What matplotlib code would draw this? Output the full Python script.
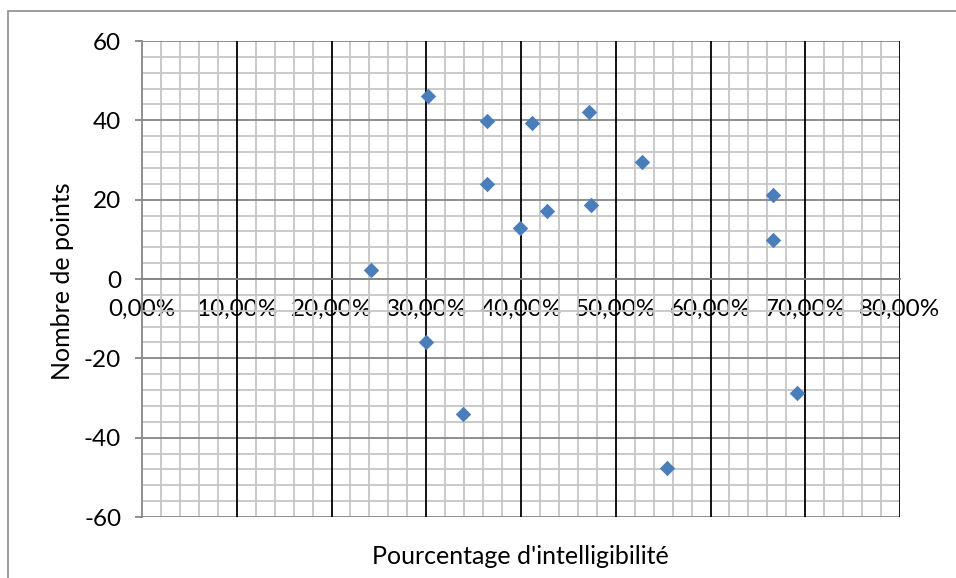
import matplotlib.pyplot as plt
from matplotlib.ticker import MultipleLocator, FuncFormatter
from matplotlib.patches import Rectangle

# Données
intelligibilite = [0.242, 0.302, 0.300, 0.339, 0.364, 0.364, 0.399, 0.412,
                   0.427, 0.472, 0.474, 0.528, 0.554, 0.666, 0.666, 0.691]
points = [2.3, 46.1, -15.9, -34.0, 39.8, 23.9, 12.9, 39.3,
          17.1, 42.1, 18.7, 29.5, -47.6, 21.3, 9.9, -28.7]

graduations_x = [0.0, 0.1, 0.2, 0.3, 0.4, 0.5, 0.6, 0.7, 0.8]
graduations_y = [-60, -40, -20, 0, 20, 40, 60]

plt.rcParams['font.family'] = ['Lato', 'DejaVu Sans']

W, H = 956, 578
fig = plt.figure(figsize=(W / 100, H / 100), dpi=100)
fig.patch.set_facecolor('white')

# Bordure de la zone du graphique (coupée à droite et en bas)
fig.patches.append(Rectangle((8 / W, -0.05), 1.2, 1 - 11 / H + 0.05,
                             transform=fig.transFigure, fill=False,
                             edgecolor='#8c8c8c', linewidth=1.2))

ax = fig.add_axes([142 / W, 1 - 517 / H, (900 - 142) / W, (517 - 41) / H])
ax.set_xlim(0, 0.8)
ax.set_ylim(-60, 60)

# Quadrillage secondaire
ax.set_xticks(graduations_x)
ax.set_yticks(graduations_y)
ax.xaxis.set_minor_locator(MultipleLocator(0.02))
ax.yaxis.set_minor_locator(MultipleLocator(4))
ax.grid(which='minor', axis='both', color='#c6c6c6', linewidth=1.3)
ax.set_axisbelow(True)

# Quadrillage principal
for yv in graduations_y:
    ax.axhline(yv, color='#868686', linewidth=1.3, zorder=1)
for xv in graduations_x[1:]:
    ax.axvline(xv, color='black', linewidth=1.3, zorder=1.2)

for side in ['top', 'right']:
    ax.spines[side].set_visible(False)
ax.spines['left'].set_color('#868686')
ax.spines['left'].set_linewidth(1.3)
ax.spines['bottom'].set_position(('data', 0))
ax.spines['bottom'].set_color('#868686')
ax.spines['bottom'].set_linewidth(1.3)

ax.tick_params(axis='y', which='major', direction='out', length=5,
               color='#868686', width=1.3, labelsize=17.5, pad=10)
ax.tick_params(axis='y', which='minor', length=0)
ax.tick_params(axis='x', which='both', length=0, labelsize=17.5, pad=14)

ax.xaxis.set_major_formatter(FuncFormatter(
    lambda v, p: f'{v * 100:.2f}%'.replace('.', ',')))
ax.yaxis.set_major_formatter(FuncFormatter(lambda v, p: f'{v:.0f}'))

ax.scatter(intelligibilite, points, marker='D', s=62, color='#4a7ebb',
           zorder=5, linewidths=0)

fig.text(520 / W, 1 - 557 / H, "Pourcentage d'intelligibilité", fontsize=18,
         ha='center', va='center')
fig.text(62 / W, 1 - 281 / H, 'Nombre de points', fontsize=18,
         ha='center', va='center', rotation=90)

plt.savefig('out.png', dpi=100)
plt.close()
